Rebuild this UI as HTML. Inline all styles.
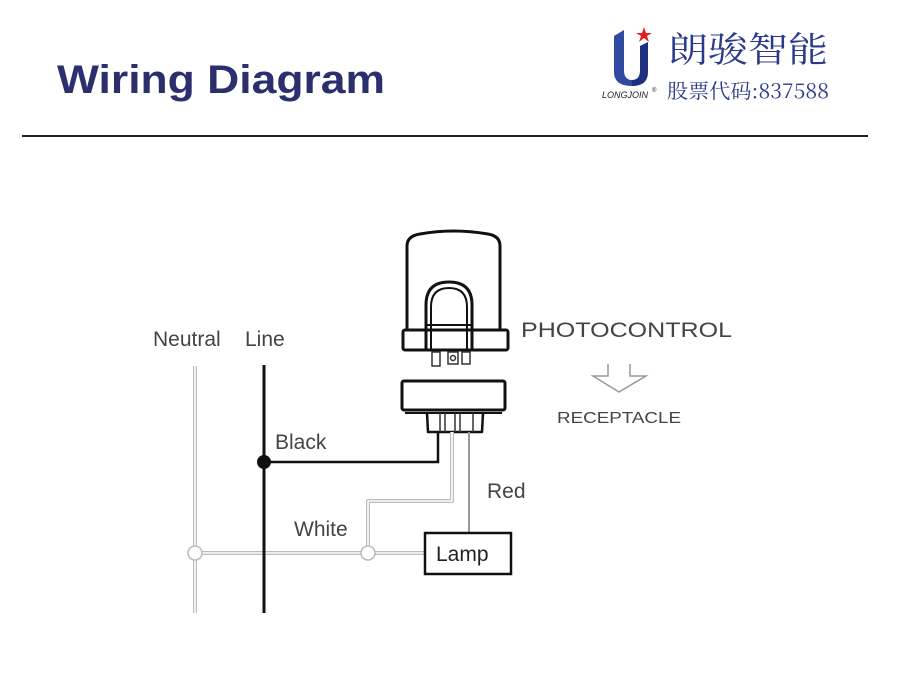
<!DOCTYPE html>
<html><head><meta charset="utf-8"><style>
html,body{margin:0;padding:0;background:#fff;width:900px;height:684px;overflow:hidden}
</style></head><body>
<svg width="900" height="684" viewBox="0 0 900 684" xmlns="http://www.w3.org/2000/svg">
<rect width="900" height="684" fill="#fff"/>
<text x="57" y="93" font-family="Liberation Sans, sans-serif" font-weight="bold" font-size="40" fill="#2b2f6e" textLength="328" lengthAdjust="spacingAndGlyphs">Wiring Diagram</text>
<line x1="22" y1="136" x2="868" y2="136" stroke="#222" stroke-width="2"/>
<!-- logo -->
<path d="M614 36 L624 30 L624 70 Q624 80 632 80 L632 86 Q614 86 614 72 Z" fill="#2f4aa0"/>
<path d="M640 46 L648 42 L648 72 Q648 86 632 86 L632 80 Q640 80 640 70 Z" fill="#1f2f80"/>
<polygon points="644,27 646,33 652,33 647,36 649,42 644,38 639,42 641,36 636,33 642,33" fill="#e02020"/>
<text x="602" y="98" font-family="Liberation Sans, sans-serif" font-style="italic" font-size="9" fill="#222">LONGJOIN</text>
<text x="652" y="92" font-family="Liberation Sans, sans-serif" font-size="6" fill="#222">®</text>
<text x="668" y="62" font-family="Noto Serif CJK SC, serif" font-size="35" fill="#2b3a8c" textLength="160" lengthAdjust="spacingAndGlyphs">朗骏智能</text>
<text x="667" y="98" font-family="Noto Serif CJK SC, serif" font-size="20" fill="#2b3a8c" textLength="162" lengthAdjust="spacingAndGlyphs">股票代码:837588</text>
<!-- photocontrol -->
<g fill="none" stroke="#111" stroke-width="3" stroke-linejoin="round">
<path d="M407 330 L407 246 Q407 236 420 234 Q453 228 488 234 Q500 236 500 246 L500 330"/>
<rect x="403" y="330" width="105" height="20" rx="2"/>
<path d="M426 350 L426 305 Q426 282 449 282 Q472 282 472 305 L472 350"/>
<path d="M431 350 L431 307 Q431 288 449 288 Q467 288 467 307 L467 350" stroke-width="2"/>
<line x1="426" y1="325" x2="472" y2="325" stroke-width="2"/>
<rect x="402" y="381" width="103" height="29" rx="2"/>
<line x1="405" y1="413" x2="502" y2="413" stroke-width="2"/>
<path d="M427 413 L428 432 L482 432 L483 413" stroke-width="2.5"/>
</g>
<g fill="none" stroke="#333" stroke-width="1.5">
<rect x="432" y="352" width="8" height="14"/>
<rect x="448" y="352" width="10" height="12"/>
<circle cx="453" cy="358" r="2.5"/>
<rect x="462" y="352" width="8" height="12"/>
<line x1="440" y1="413" x2="440" y2="432"/><line x1="445" y1="413" x2="445" y2="432"/>
<line x1="455" y1="413" x2="455" y2="432"/><line x1="460" y1="413" x2="460" y2="432"/>
<line x1="473" y1="413" x2="473" y2="432"/>
</g>
<!-- light wires (double stroke) -->
<g fill="none" stroke-linejoin="round">
<g stroke="#bbb" stroke-width="4">
<line x1="195" y1="366" x2="195" y2="613"/>
<line x1="195" y1="553" x2="425" y2="553"/>
<path d="M452 432 L452 501 L368 501 L368 553"/>
</g>
<g stroke="#fff" stroke-width="1.6">
<line x1="195" y1="366" x2="195" y2="613"/>
<line x1="195" y1="553" x2="425" y2="553"/>
<path d="M452 432 L452 501 L368 501 L368 553"/>
</g>
<line x1="469" y1="432" x2="469" y2="533" stroke="#999" stroke-width="2"/>
</g>
<circle cx="195" cy="553" r="7" fill="#fff" stroke="#bbb" stroke-width="1.5"/>
<circle cx="368" cy="553" r="7" fill="#fff" stroke="#bbb" stroke-width="1.5"/>
<line x1="264" y1="365" x2="264" y2="613" stroke="#111" stroke-width="3"/>
<path d="M264 462 L438 462 L438 432" fill="none" stroke="#111" stroke-width="2.5"/>
<circle cx="264" cy="462" r="7" fill="#111"/>
<rect x="425" y="533" width="86" height="41" fill="#fff" stroke="#111" stroke-width="2.5"/>
<!-- arrow -->
<path d="M608 364 L608 376 L593 376 L619 392 L646 376 L630 376 L630 364" fill="none" stroke="#999" stroke-width="1.5"/>
<g font-family="Liberation Sans, sans-serif" fill="#444">
<text x="153" y="346" font-size="21">Neutral</text>
<text x="245" y="346" font-size="21">Line</text>
<text x="275" y="449" font-size="21">Black</text>
<text x="294" y="536" font-size="21">White</text>
<text x="487" y="498" font-size="21">Red</text>
<text x="436" y="561" font-size="21" fill="#222">Lamp</text>
<text x="521" y="337" font-size="21" textLength="211" lengthAdjust="spacingAndGlyphs">PHOTOCONTROL</text>
<text x="557" y="423" font-size="16" textLength="124" lengthAdjust="spacingAndGlyphs">RECEPTACLE</text>
</g>
</svg>
</body></html>
